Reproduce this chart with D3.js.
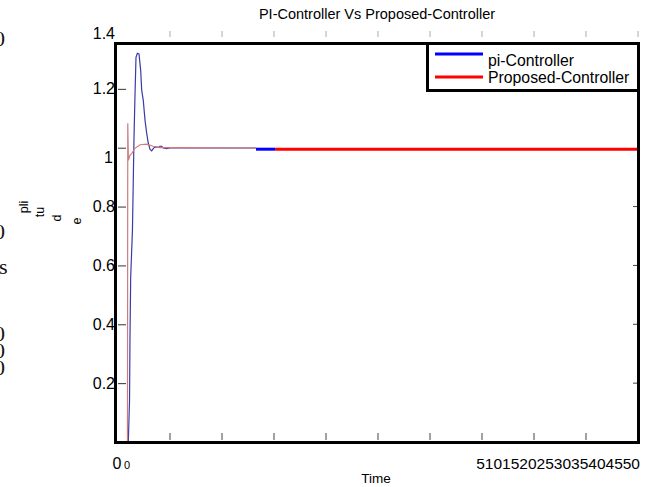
<!DOCTYPE html>
<html>
<head>
<meta charset="utf-8">
<script src="https://cdn.jsdelivr.net/npm/d3@7"></script>
<style>
  body { margin: 0; background: #fff; }
  text { font-family: "Liberation Sans", Arial, sans-serif; }
</style>
</head>
<body>
<div id="chart-area"></div>
<script>
// step response
let piTime  = [0, 0.99, 1.11, 1.15, 1.22, 1.39, 1.47, 1.54, 1.63, 1.73, 1.86, 2.02, 2.18, 2.28, 2.43, 2.6, 2.76, 2.91, 3.08, 3.24, 3.39, 3.56, 3.88, 4.04, 4.2, 4.36, 4.68, 5.0, 5.64, 13.27]
let piValue = [0, 0, 0.142, 0.346, 0.56, 0.72, 0.89, 1.036, 1.172, 1.307, 1.321, 1.319, 1.263, 1.195, 1.161, 1.093, 1.049, 1.016, 0.994, 0.989, 0.997, 1.003, 1.001, 1.005, 1.005, 0.999, 0.997, 0.999, 0.999, 0.999]

let propTime  = [0, 0.91, 0.94, 1.0, 1.15, 1.32, 1.63, 2.12, 2.76, 3.37, 4.04, 5.7, 13.27]
let propValue = [0, 0, 1.083, 0.957, 0.975, 0.98, 0.998, 1.01, 1.012, 1.005, 1.0, 1.0, 0.999]

// thick tail segments
let piTailTime = [13.27, 15.1]
let piTailValue = [0.995, 0.995]
let propTailTime = [15.1, 50]
let propTailValue = [0.995, 0.995]

let yTicks = [0, 0.2, 0.4, 0.6, 0.8, 1, 1.2, 1.4]
let xTicks = [5, 10, 15, 20, 25, 30, 35, 40, 45, 50]
let rightTicks = [0, 0.2, 0.4, 0.6, 0.8]
let seriesNames = ["pi-Controller", "Proposed-Controller"]
let yLabelParts = ["pli", "tu", "d", "e"]

let svgW = 653;
let svgH = 487;

let svg = d3.select("#chart-area")
  .append("svg")
  .attr("width", svgW)
  .attr("height", svgH)

const x = d3.scaleLinear().domain([0, 50]).range([118, 638])
const y = d3.scaleLinear().domain([0, 1.4]).range([442, 30])

const line = d3.line()
  .x(d => x(d[0]))
  .y(d => y(d[1]))

const zip = (a, b) => a.map((v, i) => [v, b[i]])

// cut-off glyphs at the left edge
let edge = svg.append("g").attr("fill", "#111")
;[39, 232, 334, 351, 368].forEach(cy => {
  edge.append("text")
    .attr("x", 5).attr("y", cy + 7)
    .attr("text-anchor", "end")
    .attr("font-size", 22)
    .style("font-family", "Liberation Serif, serif")
    .text("0")
})
edge.append("text")
  .attr("x", -1).attr("y", 274)
  .attr("font-size", 22)
  .style("font-family", "Liberation Serif, serif")
  .text("s")

// title
svg.append("text")
  .attr("x", 377).attr("y", 19)
  .attr("text-anchor", "middle")
  .attr("font-size", 14.5)
  .text("PI-Controller Vs Proposed-Controller")

// broken y label
let ylabX = [24, 40, 57, 77]
let ylabY = [207, 212, 218, 221]
yLabelParts.forEach((s, i) => {
  svg.append("text")
    .attr("transform", `translate(${ylabX[i]},${ylabY[i]}) rotate(-90)`)
    .attr("text-anchor", "middle")
    .attr("dy", "0.35em")
    .attr("font-size", 12.5)
    .text(s)
})

// curves
let curves = svg.append("g").attr("fill", "none")

curves.append("path")
  .datum(zip(piTime, piValue))
  .attr("d", line)
  .attr("stroke", "#3b3ba8")
  .attr("stroke-width", 1.2)

curves.append("path")
  .datum(zip(propTime, propValue))
  .attr("d", line)
  .attr("stroke", "#cf7b7b")
  .attr("stroke-width", 1.2)

curves.append("path")
  .datum(zip(piTailTime, piTailValue))
  .attr("d", line)
  .attr("stroke", "#0000ff")
  .attr("stroke-width", 3)

curves.append("path")
  .datum(zip(propTailTime, propTailValue))
  .attr("d", line)
  .attr("stroke", "#ff0000")
  .attr("stroke-width", 3)

// y axis
let yAxis = d3.axisLeft(y)
  .tickValues(yTicks)
  .tickSize(-8)
  .tickPadding(3)
  .tickFormat(d3.format("~g"))

let groupY = svg.append("g")
  .attr("transform", "translate(118,0)")
  .call(yAxis)

groupY.select(".domain").remove()
groupY.selectAll(".tick line").attr("stroke", "#333")
groupY.selectAll(".tick text")
  .attr("font-size", 16)
  .attr("fill", "#000")
  .style("font-family", "Liberation Sans, Arial, sans-serif")
groupY.selectAll(".tick").filter(d => d === 0 || d === 1.4).select("line").remove()
groupY.selectAll(".tick").filter(d => d === 1.4).select("text").attr("dy", "0.5em")
groupY.selectAll(".tick").filter(d => d === 1).select("text").attr("dy", "0.9em").attr("x", -5)
groupY.selectAll(".tick").filter(d => d === 0).select("text")
  .attr("text-anchor", "middle").attr("x", -1).attr("dy", "1.65em")

// bottom and top ticks
let groupX = svg.append("g")
groupX.selectAll(".bt")
  .data(xTicks)
  .enter().append("line")
  .attr("x1", d => x(d)).attr("x2", d => x(d))
  .attr("y1", 433).attr("y2", 440)
  .attr("stroke", "#444")
groupX.selectAll(".tt")
  .data(xTicks)
  .enter().append("line")
  .attr("x1", d => x(d)).attr("x2", d => x(d))
  .attr("y1", 31).attr("y2", 37)
  .attr("stroke", "#aaa")

svg.selectAll(".rt")
  .data(rightTicks)
  .enter().append("line")
  .attr("x1", 633).attr("x2", 638)
  .attr("y1", d => y(d)).attr("y2", d => y(d))
  .attr("stroke", "#444")

// x tick labels, squeezed together at the right
svg.append("text")
  .attr("x", x(0) + 9).attr("y", 469)
  .attr("text-anchor", "middle")
  .attr("font-size", 11)
  .text("0")

svg.append("text")
  .attr("x", 640).attr("y", 469)
  .attr("text-anchor", "end")
  .attr("font-size", 15.5)
  .text(xTicks.join(""))

svg.append("text")
  .attr("x", 376).attr("y", 483)
  .attr("text-anchor", "middle")
  .attr("font-size", 13.5)
  .text("Time")

// frame
svg.append("path")
  .attr("d", "M427,43.5 H115.5 V442.5 H638.5 V90")
  .attr("fill", "none")
  .attr("stroke", "#000")
  .attr("stroke-width", 3)

// legend
let legend = svg.append("g")
legend.append("rect")
  .attr("x", 427.5).attr("y", 43.5)
  .attr("width", 211).attr("height", 47)
  .attr("fill", "#fff")
  .attr("stroke", "#000")
  .attr("stroke-width", 3)

let legColors = ["#0000ff", "#ff0000"]
let legY = [54, 77]
let legTextY = [66, 83]
seriesNames.forEach((name, i) => {
  legend.append("line")
    .attr("x1", 435).attr("x2", 483)
    .attr("y1", legY[i]).attr("y2", legY[i])
    .attr("stroke", legColors[i])
    .attr("stroke-width", 3)
  legend.append("text")
    .attr("x", 488).attr("y", legTextY[i])
    .attr("font-size", 15.8)
    .text(name)
})
</script>
</body>
</html>
